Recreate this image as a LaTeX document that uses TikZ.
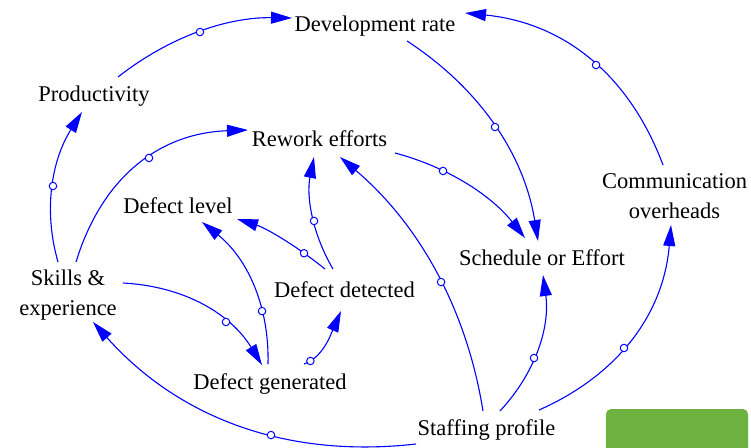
\documentclass[tikz,border=0pt]{standalone}
\usepackage{fontspec}
\setmainfont{Liberation Serif}
\usetikzlibrary{arrows.meta}
\definecolor{linkblue}{RGB}{0,0,255}
\definecolor{boxgreen}{RGB}{110,178,63}
\begin{document}
\begin{tikzpicture}[x=1pt,y=-1pt,
  lbl/.style={font=\fontsize{22.5}{30}\selectfont, inner sep=0pt, text=black},
  link/.style={draw=linkblue, line width=1.1pt, -{Triangle[length=21pt,width=12pt]}},
  mk/.style={circle, draw=linkblue, fill=white, line width=1pt, inner sep=0pt, minimum size=7.5pt}]
\useasboundingbox (0,0) rectangle (751,447);
% green box
\fill[boxgreen, rounded corners=5pt] (606,409) rectangle (748,460);
% nodes
\node[lbl, anchor=base] (dev) at (375,31.7) {Development rate};
\node[lbl, anchor=base] (prod) at (94,101.5) {Productivity};
\node[lbl, anchor=base] (rew) at (319.5,146.5) {Rework efforts};
\node[lbl, anchor=base] (dlev) at (178,213.5) {Defect level};
\node[lbl, align=center] (skill) at (68,294.75) {Skills \&\\experience};
\node[lbl, anchor=base] (ddet) at (344.5,297.5) {Defect detected};
\node[lbl, anchor=base] (dgen) at (270,389.5) {Defect generated};
\node[lbl, anchor=base] (sched) at (542,265) {Schedule or Effort};
\node[lbl, align=center] (comm) at (674.5,196.2) {Communication\\overheads};
\node[lbl, anchor=base] (staff) at (486.5,435) {Staffing profile};
% links
\draw[link] ([shift={(24,-24.5)}]prod.base) .. controls (169.3,36.7) and (227.3,17) .. ([shift={(-83,-13.7)}]dev.base) node[mk,pos=0.5]{};
\draw[link] ([shift={(-10,-32.75)}]skill.center) .. controls (43.3,210.7) and (51.3,160.7) .. ([shift={(-12,10.5)}]prod.base) node[mk,pos=0.5]{};
\draw[link] ([shift={(8,-32.75)}]skill.center) .. controls (102.0,177.1) and (159.4,133.1) .. ([shift={(-71.5,-16.5)}]rew.base) node[mk,pos=0.559]{};
\draw[link] ([shift={(55,-11.75)}]skill.center) .. controls (184.2,286.3) and (230.5,313.6) .. ([shift={(-8,-24.5)}]dgen.base) node[mk,pos=0.67]{};
\draw[link] ([shift={(-2,-25.5)}]dgen.base) .. controls (269.4,306.0) and (247.4,258.5) .. ([shift={(24,8.5)}]dlev.base) node[mk,pos=0.323]{};
\draw[link] ([shift={(34,-25.5)}]dgen.base) .. controls (323,357.6) and (331,334) .. ([shift={(-3.5,13.5)}]ddet.base) node[mk,pos=0.12]{};
\draw[link] ([shift={(-19.5,-28.5)}]ddet.base) .. controls (294.3,244.3) and (265,227.7) .. ([shift={(59,5.5)}]dlev.base) node[mk,pos=0.23]{};
\draw[link] ([shift={(-11.5,-28.5)}]ddet.base) .. controls (312.5,234.1) and (306.1,196.8) .. ([shift={(-5.5,10.5)}]rew.base) node[mk,pos=0.445]{};
\draw[link] ([shift={(-3.5,-24)}]staff.base) .. controls (466.6,308.7) and (418.9,224) .. ([shift={(20.5,10.5)}]rew.base) node[mk,pos=0.456]{};
\draw[link] ([shift={(75.5,6.5)}]rew.base) .. controls (447.7,167) and (491.1,195.3) .. ([shift={(-17,-27)}]sched.base) node[mk,pos=0.322]{};
\draw[link] ([shift={(32,9.3)}]dev.base) .. controls (480.7,89) and (524.3,155.7) .. ([shift={(-4,-24)}]sched.base) node[mk,pos=0.5]{};
\draw[link] ([shift={(13.5,-24)}]staff.base) .. controls (535.7,372.4) and (550.1,327.1) .. ([shift={(1,10)}]sched.base) node[mk,pos=0.426]{};
\draw[link] ([shift={(52.5,-25)}]staff.base) .. controls (619.6,374.3) and (663.6,312.7) .. ([shift={(-3.5,28.8)}]comm.center) node[mk,pos=0.439]{};
\draw[link] ([shift={(-11.5,-31.2)}]comm.center) .. controls (628.6,73.3) and (562.6,22.7) .. ([shift={(90,-18.7)}]dev.base) node[mk,pos=0.457]{};
\draw[link] ([shift={(-70.5,9)}]staff.base) .. controls (286.4,458.7) and (178.7,418) .. ([shift={(25,27.25)}]skill.center) node[mk,pos=0.4]{};
\end{tikzpicture}
\end{document}
